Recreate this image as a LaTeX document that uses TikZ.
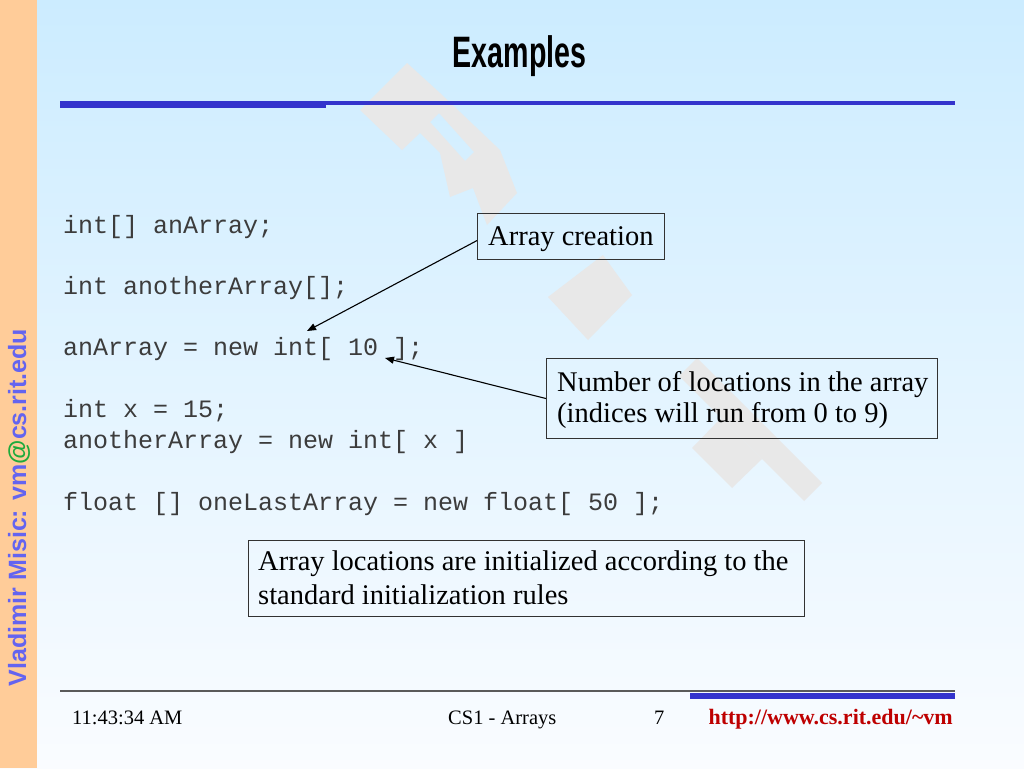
\documentclass[tikz,border=0pt]{standalone}
\usepackage{fontspec}
\setmainfont{Liberation Serif}
\setmonofont{Liberation Mono}
\newfontfamily\sansfnt{Liberation Sans}
\usetikzlibrary{arrows.meta}
\definecolor{bgtop}{RGB}{204,236,255}
\definecolor{bgbot}{RGB}{250,252,255}
\definecolor{peach}{RGB}{255,204,153}
\definecolor{barblue}{RGB}{51,51,204}
\definecolor{wm}{RGB}{232,232,232}
\definecolor{codegray}{RGB}{60,60,60}
\definecolor{boxline}{RGB}{50,50,50}
\definecolor{vert}{RGB}{100,100,240}
\definecolor{atgreen}{RGB}{30,170,60}
\definecolor{urlred}{RGB}{190,0,0}
\definecolor{footline}{RGB}{90,90,90}
\begin{document}
\begin{tikzpicture}[x=1pt,y=-1pt,
  code/.style={anchor=base west,inner sep=0,text=codegray,font=\fontsize{25}{25}\selectfont\ttfamily},
  notebox/.style={draw=boxline,line width=1.1pt,inner sep=0,anchor=north west},
  notetext/.style={anchor=base west,inner sep=0,font=\fontsize{28.5}{28.5}\selectfont},
  conn/.style={line width=1.1pt,-{Triangle[length=9pt,width=7pt]}},
  foot/.style={anchor=base west,inner sep=0,font=\fontsize{20.5}{20.5}\selectfont}]
\useasboundingbox (0,0) rectangle (1024,768);
\shade[top color=bgtop,bottom color=bgbot] (0,0) rectangle (1024,768);
\fill[peach] (0,0) rectangle (37,768);
% watermark
\fill[wm,even odd rule] (407,63) -- (360,110) -- (402,150) -- (420,133) -- (440,153) -- (450,197) -- (473,188) -- (487,225) -- (517,193) -- (500,150) -- (440,93) -- cycle
  (430,122) -- (439,113) -- (474,152) -- (465,161) -- cycle;
\fill[wm] (603,255) -- (632,295) -- (588,340) -- (548,297) -- cycle;
\fill[wm] (697,358) -- (822,483) -- (804,501) -- (679,376) -- cycle;
\fill[wm] (721,418) -- (762,459) -- (732,488) -- (692,448) -- cycle;
% title and rule
\node[anchor=base,inner sep=0] (title) at (519.5,67) {\scalebox{0.65}[1]{\fontsize{44}{44}\selectfont\sansfnt\bfseries Examples}};
\fill[barblue] (60,101) rectangle (326,108);
\fill[barblue] (326,101) rectangle (955,105);
% author strip
\node[rotate=90,anchor=base,inner sep=0,text=vert,font=\fontsize{25}{25}\selectfont\sansfnt\bfseries] (author) at (26,507.5) {Vladimir Misic: vm{\color{atgreen}@}cs.rit.edu};
% code
\node[code] (c1) at (63,233) {int[] anArray;};
\node[code] (c2) at (63,294) {int anotherArray[];};
\node[code] (c3) at (63,355) {anArray = new int[ 10 ];};
\node[code] (c4) at (63,417) {int x = 15;};
\node[code] (c5) at (63,448) {anotherArray = new int[ x ]};
\node[code] (c6) at (63,510) {float [] oneLastArray = new float[ 50 ];};
% notes
\node[notebox,minimum width=187,minimum height=46] (ac) at (477,213) {};
\node[notetext] (act) at (488,245) {Array creation};
\node[notebox,minimum width=391,minimum height=80] (nl) at (546,358) {};
\node[notetext] (nlt1) at (557,391) {Number of locations in the array};
\node[notetext] (nlt2) at (557,422) {(indices will run from 0 to 9)};
\node[notebox,minimum width=556,minimum height=76] (ai) at (248,540) {};
\node[notetext] (ait1) at (258,570) {Array locations are initialized according to the};
\node[notetext] (ait2) at (258,604) {standard initialization rules};
% connectors
\coordinate (t1) at (307,331);
\coordinate (t2) at (385,358);
\draw[conn] ([yshift=-4pt]ac.west) -- (t1);
\draw[conn] (nl.west) -- (t2);
% footer
\draw[footline,line width=2pt] (60,691) -- (955,691);
\fill[barblue] (690,693) rectangle (955,699);
\node[foot] (time) at (72,724) {11:43:34 AM};
\node[foot] (course) at (448,724) {CS1 - Arrays};
\node[foot] (page) at (654,724) {7};
\node[foot,anchor=base east,text=urlred,font=\fontsize{22}{22}\selectfont\bfseries] (url) at (953,724) {http://www.cs.rit.edu/\textasciitilde vm};
\end{tikzpicture}
\end{document}
